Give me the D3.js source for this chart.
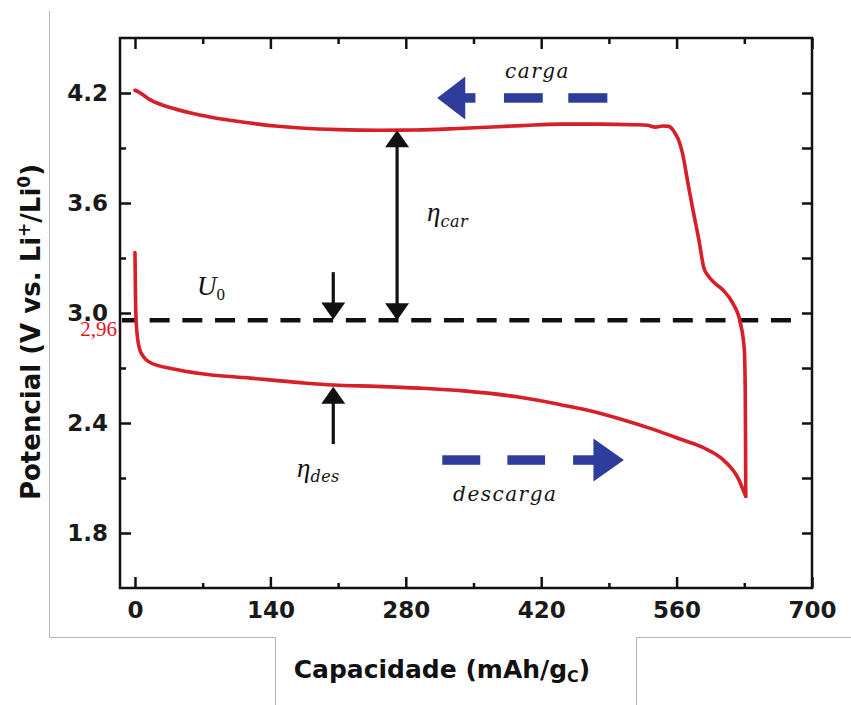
<!DOCTYPE html>
<html>
<head>
<meta charset="utf-8">
<script src="https://cdn.jsdelivr.net/npm/d3@7"></script>
<style>
  body { margin: 0; background: #fff; }
  svg { display: block; }
</style>
</head>
<body>
<svg id="chart" width="851" height="705"></svg>
<script>
// Charge curve (traced from right to left), capacity in mAh/g and potential in V
const chargeCapacity = [0, 4, 15, 40, 67, 93, 119, 145, 171, 210, 253, 290, 340, 400, 440, 480, 515, 530, 538, 546, 552, 556, 559, 562, 566, 572, 577, 583, 588, 593, 598, 608, 618, 626, 630, 631, 631.3, 631.5];
const chargePotential = [4.215, 4.205, 4.165, 4.115, 4.08, 4.055, 4.036, 4.02, 4.009, 4.0, 3.997, 3.998, 4.008, 4.022, 4.03, 4.03, 4.027, 4.024, 4.014, 4.02, 4.018, 4.0, 3.975, 3.944, 3.873, 3.70, 3.56, 3.40, 3.25, 3.20, 3.17, 3.125, 3.054, 2.945, 2.80, 2.56, 2.3, 2.0];

// Discharge curve
const dischargeCapacity = [0, 0.5, 1, 2.5, 5, 9, 15.5, 40, 67, 119, 171, 205, 250, 295, 340, 398, 440, 468, 500, 536, 565, 588, 608, 623, 631.5];
const dischargePotential = [3.33, 3.1, 2.98, 2.87, 2.80, 2.76, 2.73, 2.695, 2.67, 2.645, 2.62, 2.607, 2.60, 2.59, 2.575, 2.54, 2.50, 2.47, 2.425, 2.365, 2.31, 2.265, 2.2, 2.105, 2.0];

// Equilibrium potential U0
const equilibriumPotential = 2.96;
const equilibriumLabel = "2,96";

// Axis ticks
const xMajorTicks = [0, 140, 280, 420, 560, 700];
const xMinorTicks = [70, 210, 350, 490, 630];
const xTickLabels = ["0", "140", "280", "420", "560", "700"];
const yMajorTicks = [1.8, 2.4, 3.0, 3.6, 4.2];
const yMinorTicks = [2.1, 2.7, 3.3, 3.9];
const yTickLabels = ["1.8", "2.4", "3.0", "3.6", "4.2"];

const svg = d3.select("#chart");
const W = 851, H = 705;
const plot = { left: 120, right: 812, top: 38, bottom: 588 };

svg.append("rect").attr("width", W).attr("height", H).attr("fill", "#fff");

// Thin grey outline around the figure panel
svg.append("path")
  .attr("d", "M49.5,11 V637.5 H275.5 V705 M636.5,705 V637.5 H851")
  .attr("fill", "none").attr("stroke", "#b5b5b5").attr("stroke-width", 1);

const x = d3.scaleLinear().domain([-15.5, 700]).range([plot.left, plot.right]);
const y = d3.scaleLinear().domain([1.5, 4.5]).range([plot.bottom, plot.top]);

const tickFont = "'DejaVu Sans', sans-serif";

function styleAxis(g, withText) {
  g.select(".domain").remove();
  g.selectAll(".tick line").attr("stroke", "#111").attr("stroke-width", 2.5);
  if (withText) {
    g.selectAll(".tick text")
      .attr("fill", "#1a1a1a")
      .style("font-family", tickFont)
      .style("font-weight", "bold")
      .style("font-size", "23px");
  }
}

// Bottom axis
svg.append("g").attr("transform", `translate(0,${plot.bottom})`)
  .call(d3.axisBottom(x).tickValues(xMajorTicks).tickFormat((d, i) => xTickLabels[i]).tickSize(-11).tickPadding(14))
  .call(g => styleAxis(g, true));
svg.append("g").attr("transform", `translate(0,${plot.bottom})`)
  .call(d3.axisBottom(x).tickValues(xMinorTicks).tickFormat("").tickSize(-5))
  .call(g => styleAxis(g, false));

// Top axis
svg.append("g").attr("transform", `translate(0,${plot.top})`)
  .call(d3.axisTop(x).tickValues(xMajorTicks).tickFormat("").tickSize(-11))
  .call(g => styleAxis(g, false));
svg.append("g").attr("transform", `translate(0,${plot.top})`)
  .call(d3.axisTop(x).tickValues(xMinorTicks).tickFormat("").tickSize(-6))
  .call(g => styleAxis(g, false));

// Left axis
svg.append("g").attr("transform", `translate(${plot.left},0)`)
  .call(d3.axisLeft(y).tickValues(yMajorTicks).tickFormat((d, i) => yTickLabels[i]).tickSize(-11).tickPadding(12))
  .call(g => styleAxis(g, true));
svg.append("g").attr("transform", `translate(${plot.left},0)`)
  .call(d3.axisLeft(y).tickValues(yMinorTicks).tickFormat("").tickSize(-6))
  .call(g => styleAxis(g, false));

// Right axis
svg.append("g").attr("transform", `translate(${plot.right},0)`)
  .call(d3.axisRight(y).tickValues(yMajorTicks.concat(yMinorTicks)).tickFormat("").tickSize(-10))
  .call(g => styleAxis(g, false));

// Frame
svg.append("rect")
  .attr("x", plot.left).attr("y", plot.top)
  .attr("width", plot.right - plot.left).attr("height", plot.bottom - plot.top)
  .attr("fill", "none").attr("stroke", "#111").attr("stroke-width", 2.5);

// Equilibrium potential dashed line
svg.append("line")
  .attr("x1", x(-13.5)).attr("x2", x(683))
  .attr("y1", y(equilibriumPotential)).attr("y2", y(equilibriumPotential))
  .attr("stroke", "#111").attr("stroke-width", 4.5)
  .attr("stroke-dasharray", "20 12.7").attr("stroke-dashoffset", 5);

svg.append("text")
  .attr("x", x(-15.5) - 3).attr("y", y(equilibriumPotential) + 16)
  .attr("text-anchor", "end")
  .attr("fill", "#e8141c")
  .style("font-family", "'Liberation Serif', serif")
  .style("font-size", "21px")
  .text(equilibriumLabel);

// Potential curves
const line = d3.line().x(d => x(d[0])).y(d => y(d[1])).curve(d3.curveMonotoneX);
const chargeData = chargeCapacity.map((c, i) => [c, chargePotential[i]]);
const dischargeData = dischargeCapacity.map((c, i) => [c, dischargePotential[i]]);

[chargeData, dischargeData].forEach(data => {
  svg.append("path")
    .datum(data)
    .attr("d", line)
    .attr("fill", "none")
    .attr("stroke", "#d61f26")
    .attr("stroke-width", 3.6)
    .attr("stroke-linejoin", "round")
    .attr("stroke-linecap", "round");
});

// Black overpotential arrows
function blackArrow(cx, fromV, toV, doubleHead) {
  const px = x(cx), y0 = y(fromV), y1 = y(toV);
  const dir = Math.sign(y1 - y0);
  const headLen = 17, headHalf = 12;
  svg.append("line")
    .attr("x1", px).attr("x2", px)
    .attr("y1", doubleHead ? y0 + dir * headLen * 0.8 : y0)
    .attr("y2", y1 - dir * headLen * 0.8)
    .attr("stroke", "#111").attr("stroke-width", 3.2);
  const head = (tipY, d) => svg.append("path")
    .attr("d", `M${px},${tipY} L${px - headHalf},${tipY - d * headLen} L${px + headHalf},${tipY - d * headLen} Z`)
    .attr("fill", "#111");
  head(y1, dir);
  if (doubleHead) head(y0, -dir);
}
blackArrow(271, 3.997, equilibriumPotential, true);
blackArrow(205, 3.223, equilibriumPotential + 0.005, false);
blackArrow(205, 2.285, 2.598, false);

// Blue direction arrows
const blue = "#2e3c9c";
function blueArrow(yv, segments, headBase, tip) {
  const cy = y(yv), thick = 9.5, headHalf = 21.5;
  segments.forEach(([a, b]) => {
    svg.append("rect")
      .attr("x", Math.min(x(a), x(b))).attr("y", cy - thick / 2)
      .attr("width", Math.abs(x(b) - x(a))).attr("height", thick)
      .attr("fill", blue);
  });
  svg.append("path")
    .attr("d", `M${x(tip)},${cy} L${x(headBase)},${cy - headHalf} L${x(headBase)},${cy + headHalf} Z`)
    .attr("fill", blue);
}
blueArrow(4.173, [[340, 352], [381.5, 421.6], [448, 488.4]], 341.5, 312.5);
blueArrow(2.198, [[317.7, 357], [385, 424], [453, 476]], 474, 505.5);

// Annotation labels
const labelFont = "'DejaVu Serif', serif";
function italicLabel(cx, cv, str) {
  svg.append("text")
    .attr("x", x(cx)).attr("y", y(cv))
    .attr("fill", "#111")
    .style("font-family", labelFont)
    .style("font-style", "italic")
    .style("font-size", "20px")
    .style("letter-spacing", "1.5px")
    .text(str);
}
italicLabel(382.6, 4.282, "carga");
italicLabel(328.9, 1.974, "descarga");

function symbolLabel(cx, cv, main, sub, mainSize, subSize, subDy) {
  const t = svg.append("text")
    .attr("x", x(cx)).attr("y", y(cv))
    .attr("fill", "#111");
  t.append("tspan")
    .style("font-family", "'Liberation Serif', serif")
    .style("font-style", "italic")
    .style("font-size", mainSize + "px")
    .text(main);
  t.append("tspan")
    .attr("dy", subDy)
    .style("font-family", sub === "0" ? "'Liberation Serif', serif" : labelFont)
    .style("font-style", sub === "0" ? "normal" : "italic")
    .style("font-size", subSize + "px")
    .style("letter-spacing", sub === "0" ? "0px" : "0.5px")
    .text(sub);
}
symbolLabel(302, 3.502, "η", "car", 27, 16, 6);
symbolLabel(167.5, 2.105, "η", "des", 27, 16, 5);
symbolLabel(64, 3.098, "U", "0", 27, 17, 5);

// Axis titles
const titleFont = "'DejaVu Sans', sans-serif";
const xt = svg.append("text")
  .attr("x", 442).attr("y", 678)
  .attr("text-anchor", "middle")
  .attr("fill", "#111")
  .style("font-family", titleFont).style("font-weight", "bold").style("font-size", "25px");
xt.append("tspan").text("Capacidade (mAh/g");
xt.append("tspan").attr("dy", 4).style("font-size", "16px").text("C");
xt.append("tspan").attr("dy", -4).text(")");

const yt = svg.append("text")
  .attr("transform", `translate(40,${332}) rotate(-90)`)
  .attr("text-anchor", "middle")
  .attr("fill", "#111")
  .style("font-family", titleFont).style("font-weight", "bold").style("font-size", "26px");
yt.append("tspan").text("Potencial (V vs. Li");
yt.append("tspan").attr("dy", -10).style("font-size", "17px").text("+");
yt.append("tspan").attr("dy", 10).text("/Li");
yt.append("tspan").attr("dy", -10).style("font-size", "17px").text("0");
yt.append("tspan").attr("dy", 10).text(")");
</script>
</body>
</html>
